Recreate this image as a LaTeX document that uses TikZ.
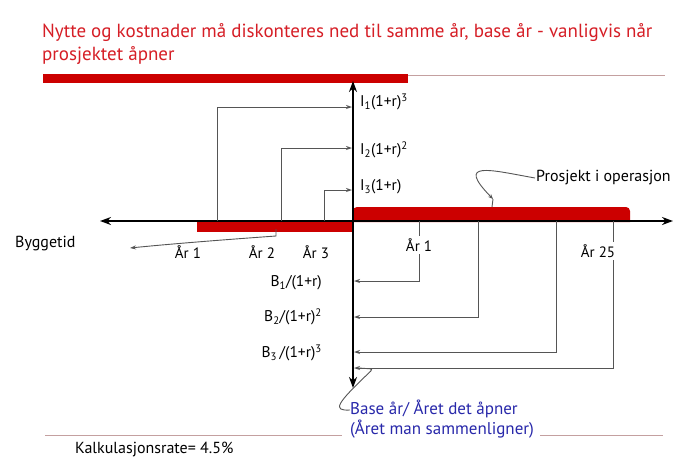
\documentclass[tikz,border=0pt]{standalone}
\usepackage{fontspec}
\setmainfont{PT Sans}
\usetikzlibrary{arrows.meta}
\definecolor{titlered}{RGB}{214,30,38}
\definecolor{barred}{RGB}{204,0,0}
\definecolor{rulecol}{RGB}{196,160,160}
\definecolor{conngray}{RGB}{85,85,85}
\definecolor{baseblue}{RGB}{40,40,170}
\begin{document}
\begin{tikzpicture}[x=1pt,y=-1pt,
  axisline/.style={line width=2.4pt, {Stealth[length=11pt,width=8pt]}-{Stealth[length=11pt,width=8pt]}},
  conn/.style={draw=conngray, line width=1pt, -{Stealth[length=6pt,width=4pt]}},
  thinrule/.style={draw=rulecol, line width=1pt},
  lbl/.style={font=\fontsize{15.5}{18}\selectfont, inner sep=1pt},
  yrlbl/.style={font=\fontsize{15}{17}\selectfont, fill=white, inner sep=3pt},
  txt/.style={font=\fontsize{16}{18}\selectfont, inner sep=1pt}]
\useasboundingbox (0,0) rectangle (681,459);
\fill[white] (0,0) rectangle (681,459);

% title
\node[anchor=west, text=titlered, font=\fontsize{19}{23}\selectfont, align=left, inner sep=0pt] (title) at (42,44)
  {Nytte og kostnader må diskonteres ned til samme år, base år - vanligvis når\\prosjektet åpner};
\fill[barred] (43,74) rectangle (408,83);
\coordinate (ruleA) at (408,75);
\coordinate (ruleB) at (665,75);
\draw[thinrule] (ruleA) -- (ruleB);

% red bars
\fill[barred] (197,220) rectangle (353,232);
\fill[barred, rounded corners=4pt] (353,222) -- (353,207) -- (630,207) -- (630,222);
\fill[barred] (353,214) rectangle (630,222);

% axes
\coordinate (xl) at (100,221);
\coordinate (xr) at (673,221);
\coordinate (yt) at (353,81);
\coordinate (yb) at (353,388);
\draw[axisline] (xl) -- (xr);
\draw[axisline] (yb) -- (yt);

% investment lines
\coordinate (i1s) at (217,221); \coordinate (i1e) at (352,107);
\coordinate (i2s) at (281,221); \coordinate (i2e) at (352,148);
\coordinate (i3s) at (324,221); \coordinate (i3e) at (352,190);
\draw[conn] (i1s) |- (i1e);
\draw[conn] (i2s) |- (i2e);
\draw[conn] (i3s) |- (i3e);
\node[lbl, anchor=west] (I1) at (359,102) {I\textsubscript{1}(1+r)\textsuperscript{3}};
\node[lbl, anchor=west] (I2) at (359,150) {I\textsubscript{2}(1+r)\textsuperscript{2}};
\node[lbl, anchor=west] (I3) at (359,187) {I\textsubscript{3}(1+r)};

% benefit lines
\coordinate (b1s) at (419,221); \coordinate (b1e) at (354,281);
\coordinate (b2s) at (478,221); \coordinate (b2e) at (354,317);
\coordinate (b3s) at (556,221); \coordinate (b3e) at (354,352);
\coordinate (b4s) at (613,221); \coordinate (b4e) at (354,368);
\draw[conn] (b1s) |- (b1e);
\draw[conn] (b2s) |- (b2e);
\draw[conn] (b3s) |- (b3e);
\draw[conn] (b4s) |- (b4e);
\node[lbl, anchor=east] (B1) at (323,283) {B\textsubscript{1}/(1+r)};
\node[lbl, anchor=east] (B2) at (323,317) {B\textsubscript{2}/(1+r)\textsuperscript{2}};
\node[lbl, anchor=east] (B3) at (323,353) {B\textsubscript{3}\,/(1+r)\textsuperscript{3}};

% year labels
\node[yrlbl] (y1) at (188,252) {År 1};
\node[yrlbl] (y2) at (262,252) {År 2};
\node[yrlbl] (y3) at (316,252) {År 3};
\node[yrlbl] (r1) at (419,245) {År 1};
\node[yrlbl] (r25) at (598,251) {År 25};

% Byggetid callout
\node[txt, anchor=west] (bygg) at (14,244) {Byggetid};
\coordinate (bgA) at (276,229);
\coordinate (bgB) at (276,236);
\coordinate (bgC) at (130,248);
\draw[draw=conngray, line width=0.9pt, -{Stealth[length=6pt,width=4pt]}] (bgA) -- (bgB) .. controls (220,240) and (170,244) .. (bgC);

% Prosjekt i operasjon callout
\node[txt, anchor=west] (po) at (535,178) {Prosjekt i operasjon};
\coordinate (poA) at (493,199);
\coordinate (poB) at (492,207);
\draw[draw=conngray, line width=0.9pt, -{Stealth[length=5pt,width=4pt]}] (po.west) .. controls (490,170) and (455,160) .. (poA);
\draw[draw=conngray, line width=0.9pt] (poA) -- (poB);

% base year callout
\node[anchor=west, text=baseblue, fill=white, align=left, font=\fontsize{17}{20}\selectfont, inner sep=2pt] (base) at (348,419)
  {Base år/ Året det åpner\\(Året man sammenligner)};
\coordinate (bcA) at (350,410);
\coordinate (bcB) at (373,369);
\coordinate (bcC) at (359,368);
\draw[draw=conngray, line width=0.9pt, rounded corners=3pt] (bcA) .. controls (332,411) and (336,404) .. (bcB) -- (bcC);

% bottom rules and rate
\coordinate (brA) at (45,435); \coordinate (brB) at (342,435);
\coordinate (brC) at (540,435); \coordinate (brD) at (663,435);
\draw[thinrule] (brA) -- (brB);
\draw[thinrule] (brC) -- (brD);
\node[txt, anchor=base west] (rate) at (74,453) {Kalkulasjonsrate= 4.5\%};
\end{tikzpicture}
\end{document}
